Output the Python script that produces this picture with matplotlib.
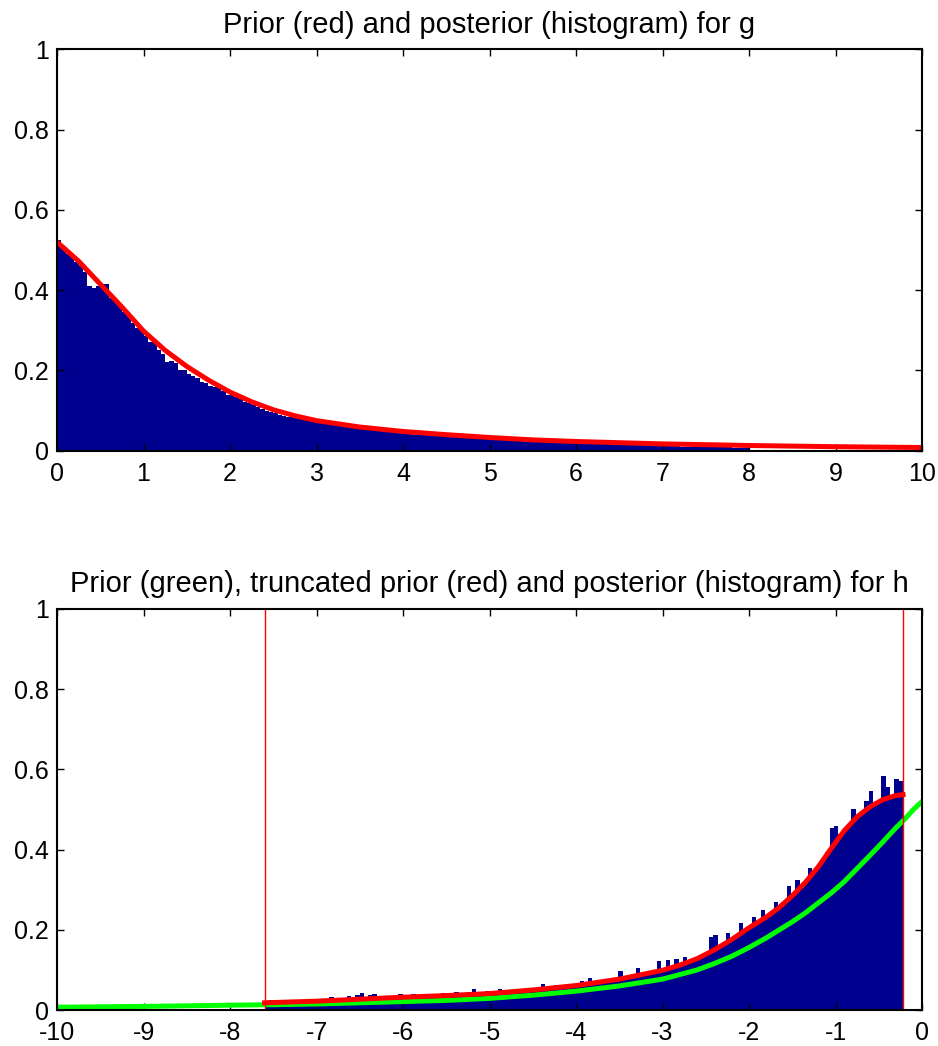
import numpy as np
import matplotlib
matplotlib.use("Agg")
import matplotlib.pyplot as plt
from matplotlib.ticker import FormatStrFormatter

plt.rcParams['font.family'] = ['Liberation Sans', 'DejaVu Sans']
plt.rcParams['axes.unicode_minus'] = False

## Top panel: g
# posterior histogram heights (0.05 wide bins on 0..3, 0.1 wide on 3..8)
g_post_fine = [0.525, 0.505, 0.49, 0.485, 0.47, 0.46, 0.445, 0.41, 0.405, 0.41,
               0.416, 0.416, 0.38, 0.376, 0.36, 0.345, 0.34, 0.318, 0.305, 0.3,
               0.285, 0.27, 0.27, 0.25, 0.24, 0.222, 0.224, 0.218, 0.2, 0.2,
               0.19, 0.186, 0.18, 0.172, 0.168, 0.16, 0.158, 0.158, 0.148, 0.14,
               0.148, 0.134, 0.128, 0.122, 0.118, 0.113, 0.108, 0.103, 0.099, 0.096,
               0.093, 0.09, 0.087, 0.085, 0.083, 0.081, 0.079, 0.077, 0.075, 0.073]
g_post_coarse = [0.07, 0.067, 0.064, 0.061, 0.058, 0.055, 0.053, 0.051, 0.049, 0.047,
                 0.045, 0.043, 0.041, 0.04, 0.038, 0.037, 0.035, 0.034, 0.032, 0.031,
                 0.03, 0.029, 0.028, 0.027, 0.026, 0.025, 0.024, 0.023, 0.022, 0.021,
                 0.02, 0.02, 0.019, 0.018, 0.018, 0.017, 0.016, 0.016, 0.015, 0.015,
                 0.011, 0.011, 0.01, 0.01, 0.01, 0.009, 0.009, 0.009, 0.008, 0.008]
g_prior_x = [0, 0.25, 0.5, 0.75, 1.0, 1.25, 1.5, 1.75, 2.0, 2.25, 2.5, 2.75, 3.0,
             3.5, 4.0, 4.5, 5.0, 5.5, 6.0, 7.0, 8.0, 9.0, 10.0]
g_prior_y = [0.52, 0.472, 0.415, 0.358, 0.298, 0.25, 0.21, 0.176, 0.146, 0.122,
             0.102, 0.087, 0.075, 0.059, 0.048, 0.04, 0.033, 0.027, 0.023, 0.017,
             0.013, 0.01, 0.008]

## Bottom panel: h
h_lo, h_hi = -7.6, -0.22
h_post = [0.018, 0.025, 0.018, 0.019, 0.019, 0.019, 0.02, 0.02, 0.02, 0.021,
          0.021, 0.022, 0.022, 0.023, 0.023, 0.032, 0.024, 0.024, 0.025, 0.034,
          0.026, 0.037, 0.043, 0.027, 0.038, 0.04, 0.029, 0.036, 0.03, 0.031,
          0.031, 0.04, 0.032, 0.033, 0.041, 0.033, 0.034, 0.04, 0.034, 0.035,
          0.035, 0.043, 0.036, 0.037, 0.044, 0.038, 0.039, 0.046, 0.052, 0.04,
          0.041, 0.047, 0.043, 0.044, 0.052, 0.046, 0.047, 0.05, 0.048, 0.049,
          0.049, 0.051, 0.05, 0.053, 0.066, 0.055, 0.056, 0.062, 0.058, 0.059,
          0.06, 0.062, 0.063, 0.072, 0.066, 0.08, 0.069, 0.07, 0.072, 0.074,
          0.075, 0.077, 0.098, 0.08, 0.083, 0.085, 0.104, 0.088, 0.09, 0.092,
          0.094, 0.121, 0.1, 0.125, 0.108, 0.127, 0.115, 0.133, 0.121, 0.125,
          0.13, 0.136, 0.14, 0.183, 0.188, 0.158, 0.165, 0.192, 0.18, 0.186,
          0.217, 0.2, 0.208, 0.233, 0.223, 0.25, 0.236, 0.244, 0.27, 0.259,
          0.268, 0.308, 0.288, 0.325, 0.305, 0.32, 0.354, 0.345, 0.362, 0.377,
          0.395, 0.455, 0.46, 0.44, 0.452, 0.465, 0.5, 0.485, 0.494, 0.52,
          0.545, 0.512, 0.522, 0.583, 0.555, 0.535, 0.576, 0.57]
h_prior_x = [-10, -9, -8, -7.6, -7, -6.5, -6, -5.5, -5, -4.5, -4, -3.5, -3, -2.6,
             -2.4, -2.2, -2.0, -1.8, -1.65, -1.5, -1.35, -1.2, -1.05, -0.9, -0.75,
             -0.6, -0.45, -0.3, -0.2, -0.1, 0]
h_prior_y = [0.007, 0.009, 0.012, 0.013, 0.015, 0.018, 0.021, 0.024, 0.029, 0.037,
             0.047, 0.06, 0.077, 0.1, 0.116, 0.134, 0.156, 0.18, 0.2, 0.22,
             0.242, 0.267, 0.292, 0.32, 0.353, 0.386, 0.42, 0.455, 0.476, 0.5, 0.52]
h_trunc_x = [-7.6, -7, -6.5, -6, -5.5, -5, -4.5, -4, -3.5, -3, -2.8, -2.6, -2.4,
             -2.2, -2.0, -1.8, -1.65, -1.5, -1.35, -1.2, -1.05, -0.9, -0.75, -0.6,
             -0.45, -0.3, -0.22]
h_trunc_y = [0.018, 0.022, 0.027, 0.032, 0.036, 0.041, 0.05, 0.061, 0.077, 0.099,
             0.112, 0.128, 0.15, 0.176, 0.205, 0.232, 0.256, 0.285, 0.318, 0.357,
             0.403, 0.447, 0.482, 0.507, 0.525, 0.535, 0.537]

navy = '#00008f'
tick_fs = 18
title_fs = 21

def style(ax, xlim, xticks):
    ax.set_xlim(*xlim)
    ax.set_ylim(0, 1)
    ax.set_xticks(xticks)
    ax.set_yticks([0, 0.2, 0.4, 0.6, 0.8, 1])
    ax.yaxis.set_major_formatter(FormatStrFormatter('%g'))
    ax.tick_params(direction='in', top=True, right=True, length=5, width=1,
                   labelsize=tick_fs)
    ax.tick_params(axis='x', pad=8)
    ax.tick_params(axis='y', pad=6)
    for s in ax.spines.values():
        s.set_linewidth(1.5)

fig = plt.figure(figsize=(9.38, 10.46), dpi=100)

ax1 = fig.add_axes([0.0608, 0.5691, 0.9222, 0.3838])
g_edges = np.concatenate([np.arange(0, 3, 0.05), np.arange(3, 8.0001, 0.1)])
ax1.stairs(g_post_fine + g_post_coarse, g_edges, fill=True, color=navy, lw=0)
ax1.plot(g_prior_x, g_prior_y, color='red', lw=3.6)
style(ax1, (0, 10), range(0, 11))
ax1.set_title('Prior (red) and posterior (histogram) for g', fontsize=title_fs, pad=12)

ax2 = fig.add_axes([0.0608, 0.0344, 0.9222, 0.3834])
h_edges = np.linspace(h_lo, h_hi, len(h_post) + 1)
ax2.stairs(h_post, h_edges, fill=True, color=navy, lw=0)
ax2.plot(h_prior_x, h_prior_y, color='#00ff00', lw=3.6)
ax2.plot(h_trunc_x, h_trunc_y, color='red', lw=3.6)
ax2.axvline(h_lo, color='red', lw=1)
ax2.axvline(h_hi, color='red', lw=1)
style(ax2, (-10, 0), range(-10, 1))
ax2.set_title('Prior (green), truncated prior (red) and posterior (histogram) for h',
              fontsize=title_fs, pad=12)

fig.savefig('out.png', dpi=100)
